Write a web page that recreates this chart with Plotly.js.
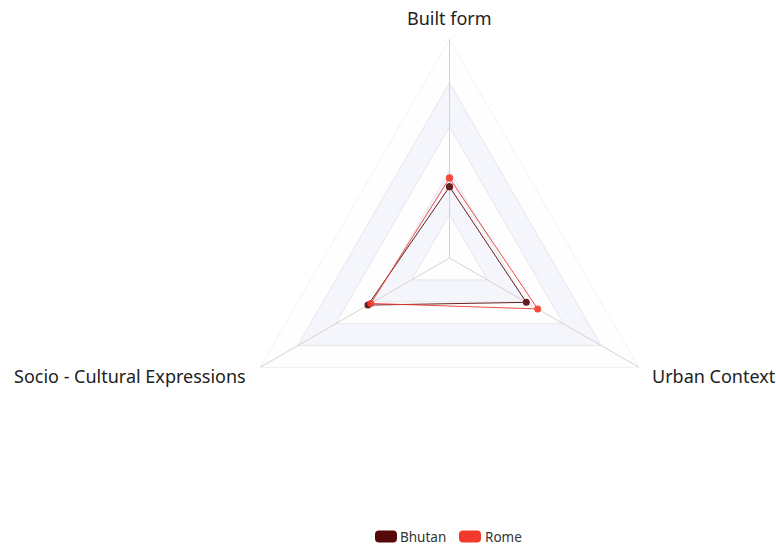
<!DOCTYPE html>
<html>
<head>
<meta charset="utf-8">
<script src="https://cdn.plot.ly/plotly-3.0.1.min.js"></script>
<style>html,body{margin:0;padding:0;background:#fff;}#chart{width:776px;height:546px;}</style>
</head>
<body>
<div id="chart"></div>
<script>
const indicators = ["Built form", "Urban Context", "Socio - Cultural Expressions"];
const bhutan = [3.25, 4.05, 4.3];
const rome = [3.65, 4.65, 4.15];
const seriesNames = ["Bhutan", "Rome"];
const seriesColors = ["#560909", "#f23a2c"];
const radarMax = 10;
const splitLevels = [10, 8, 6, 4, 2];
const splitColors = ["#fefefe", "#f5f6fb", "#fefefe", "#f5f6fb", "#fefefe"];

const W = 776, H = 546;
const px = x => x / W;
const py = y => 1 - y / H;
const closeLoop = a => a.concat([a[0]]);
const traces = [];

// split areas + split lines
splitLevels.forEach((lv, i) => {
  traces.push({
    type: "scatterpolar",
    r: closeLoop(indicators.map(() => lv)),
    theta: closeLoop(indicators),
    mode: "lines",
    fill: "toself",
    fillcolor: splitColors[i],
    line: {width: 1, color: "#e4e6ec"},
    hoverinfo: "skip",
    showlegend: false
  });
});

// spokes (axis lines)
const spokeR = [], spokeT = [];
indicators.forEach((c, i) => {
  spokeR.push(0, radarMax, null);
  spokeT.push(c, c, c);
});
traces.push({
  type: "scatterpolar", r: spokeR, theta: spokeT, mode: "lines",
  line: {width: 1, color: "#d2d2d2"}, connectgaps: false,
  hoverinfo: "skip", showlegend: false
});

[bhutan, rome].forEach((vals, i) => {
  traces.push({
    type: "scatterpolar",
    name: seriesNames[i],
    r: closeLoop(vals),
    theta: closeLoop(indicators),
    mode: "lines+markers",
    line: {color: seriesColors[i], width: 1},
    marker: {color: seriesColors[i], size: 7},
    opacity: 0.9,
    showlegend: false
  });
});

// indicator labels
const annotations = [
  {text: indicators[0], x: px(449.5), y: py(18), xanchor: "center", yanchor: "middle"},
  {text: indicators[1], x: px(650), y: py(376), xanchor: "left", yanchor: "middle"},
  {text: indicators[2], x: px(248), y: py(376), xanchor: "right", yanchor: "middle"}
].map(a => Object.assign(a, {xref: "paper", yref: "paper", showarrow: false,
  font: {size: 18, color: "#222", family: "Noto Sans, sans-serif"}}));

// legend (rounded swatches + names)
const shapes = [];
const legendY = 536.5;
const legendItems = [
  {sx: 375, tx: 399.5},
  {sx: 459, tx: 483.5}
];
function roundRect(x0, y0, w, h, r) {
  const X = v => px(v).toFixed(5), Y = v => py(v).toFixed(5);
  return `M${X(x0 + r)},${Y(y0)} L${X(x0 + w - r)},${Y(y0)} Q${X(x0 + w)},${Y(y0)} ${X(x0 + w)},${Y(y0 + r)} ` +
    `L${X(x0 + w)},${Y(y0 + h - r)} Q${X(x0 + w)},${Y(y0 + h)} ${X(x0 + w - r)},${Y(y0 + h)} ` +
    `L${X(x0 + r)},${Y(y0 + h)} Q${X(x0)},${Y(y0 + h)} ${X(x0)},${Y(y0 + h - r)} ` +
    `L${X(x0)},${Y(y0 + r)} Q${X(x0)},${Y(y0)} ${X(x0 + r)},${Y(y0)} Z`;
}
seriesNames.forEach((n, i) => {
  const it = legendItems[i];
  shapes.push({type: "path", xref: "paper", yref: "paper",
    path: roundRect(it.sx, legendY - 6, 22, 12, 4),
    fillcolor: seriesColors[i], line: {width: 0}});
  annotations.push({text: n, xref: "paper", yref: "paper", x: px(it.tx), y: py(legendY),
    xanchor: "left", yanchor: "middle", showarrow: false, borderpad: 0,
    font: {size: 13.5, color: "#333", family: "Noto Sans, sans-serif"}});
});

const R = 219, cx = 449.5, cy = 258;
const layout = {
  width: W, height: H,
  margin: {l: 0, r: 0, t: 0, b: 0, pad: 0},
  paper_bgcolor: "#fff",
  font: {family: "Noto Sans, sans-serif", color: "#333"},
  showlegend: false,
  annotations: annotations,
  shapes: shapes,
  polar: {
    domain: {x: [px(cx - R), px(cx + R)], y: [py(cy + R), py(cy - R)]},
    gridshape: "linear",
    bgcolor: "#fff",
    angularaxis: {
      rotation: 90, direction: "clockwise",
      showline: false, showgrid: false, showticklabels: false, ticks: ""
    },
    radialaxis: {
      range: [0, radarMax], showticklabels: false, ticks: "",
      showline: false, showgrid: false
    }
  }
};
Plotly.newPlot("chart", traces, layout, {displayModeBar: false, staticPlot: true});
</script>
</body>
</html>
